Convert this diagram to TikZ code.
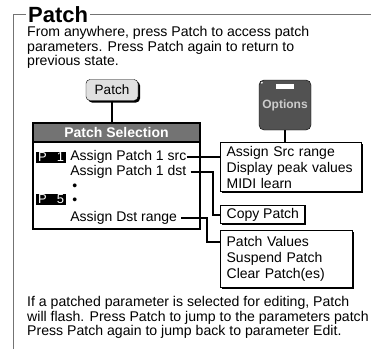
\documentclass[tikz,border=0pt]{standalone}
\usepackage{fontspec}
\setmainfont{Liberation Sans}
\usepackage{tikz}
\usetikzlibrary{positioning, shadows}

\begin{document}
\begin{tikzpicture}[x=1pt, y=1pt,
    body/.style={font=\fontsize{14.1}{14.7}\selectfont, inner sep=0pt, align=left, anchor=north west},
    item/.style={font=\fontsize{14}{16}\selectfont, inner sep=0pt, anchor=west},
    tag/.style={fill=black, text=white, font=\fontsize{13}{13}\selectfont, text width=26pt, inner xsep=2pt, inner ysep=0pt, minimum height=11pt, text height=9pt, text depth=0pt},
    dot/.style={font=\fontsize{14}{14}\selectfont, inner sep=0pt, anchor=west},
    solid shadow/.style={drop shadow={shadow xshift=#1, shadow yshift=-#1, fill=black, opacity=1}},
    menu/.style={draw, line width=1.3pt, fill=white, anchor=north west, align=left, inner xsep=6pt, font=\fontsize{14}{16}\selectfont, solid shadow=1.2pt},
    link/.style={line width=1.9pt}]
    \useasboundingbox (0,0) rectangle (371,-349);

    \draw[black!55, line width=0.8pt] (13,-349) -- (13,-14) -- (371,-14);
    \node[anchor=base west, fill=white, inner xsep=2pt, inner ysep=1pt, font=\bfseries\fontsize{22}{22}\selectfont] (title) at (26,-22) {Patch};

    \node[body] (intro) at (27,-26) {From anywhere, press Patch to access patch\\parameters. Press Patch again to return to\\previous state.};

    \node[draw, rounded corners=4pt, fill=black!12, minimum width=52pt, minimum height=21pt, font=\fontsize{13.5}{13.5}\selectfont, solid shadow=2pt] (patch-key) at (112,-90) {Patch};
    \node[draw, rounded corners=5pt, fill=black!68, minimum width=52pt, minimum height=50pt, text=black!20, font=\bfseries\fontsize{12}{12}\selectfont] (options-key) at (285,-105) {\raisebox{-3pt}{Options}};
    \fill[white] ([shift={(-9pt,-4pt)}]options-key.north) rectangle ++(18,-5);
    \fill[white] ([shift={(3pt,-3pt)}]options-key.north west) circle (1pt);

    \node[draw, line width=1.3pt, fill=white, minimum width=167pt, minimum height=106pt, solid shadow=1.2pt] (sel-box) at (116.5,-176) {};
    \node[draw, line width=1.3pt, fill=black!55, minimum width=167pt, minimum height=19pt, anchor=north, text=white, font=\bfseries\fontsize{14}{14}\selectfont] (sel-head) at (sel-box.north) {Patch Selection};

    \node[tag] (p-1) at (51,-157) {P\hfill 1};
    \node[item, right=4pt of p-1] (assign-src) {Assign Patch 1 src};
    \node[item, below=15pt of assign-src.west, anchor=west] (assign-dst) {Assign Patch 1 dst};
    \node[dot, below=15pt of assign-dst.west, anchor=west, xshift=2pt] (dot-1) {\textbullet};
    \node[tag, below=31pt of p-1] (p-5) {P\hfill 5};
    \node[dot, right=6pt of p-5, yshift=-2pt] (dot-2) {\textbullet};
    \node[item, below=61pt of assign-src.west, anchor=west] (assign-range) {Assign Dst range};

    \node[menu, text width=129pt] (opt-menu) at (220,-142) {Assign Src range\\Display peak values\\MIDI learn};
    \node[menu, inner ysep=2.5pt] (copy-box) at (220,-205) {Copy Patch};
    \node[menu, text width=120pt, inner ysep=6pt] (pv-box) at (220,-230) {Patch Values\\Suspend Patch\\Clear Patch(es)};

    \draw[link] (patch-key.south) -- (patch-key.south |- sel-head.north);
    \draw[link] (options-key.south) -- (options-key.south |- opt-menu.north);
    \draw[link] (assign-src.east) -- (assign-src.east -| opt-menu.west);
    \draw[link] ([xshift=4pt]assign-dst.east) -| ([xshift=-7pt]copy-box.west) -- (copy-box.west);
    \draw[link] ([xshift=4pt]assign-range.east) -| ([shift={(-13pt,-12pt)}]pv-box.north west) -- ([yshift=-12pt]pv-box.north west);

    \node[body] (note) at (27,-296) {If a patched parameter is selected for editing, Patch\\will flash. Press Patch to jump to the parameters patch\\Press Patch again to jump back to parameter Edit.};
\end{tikzpicture}
\end{document}
